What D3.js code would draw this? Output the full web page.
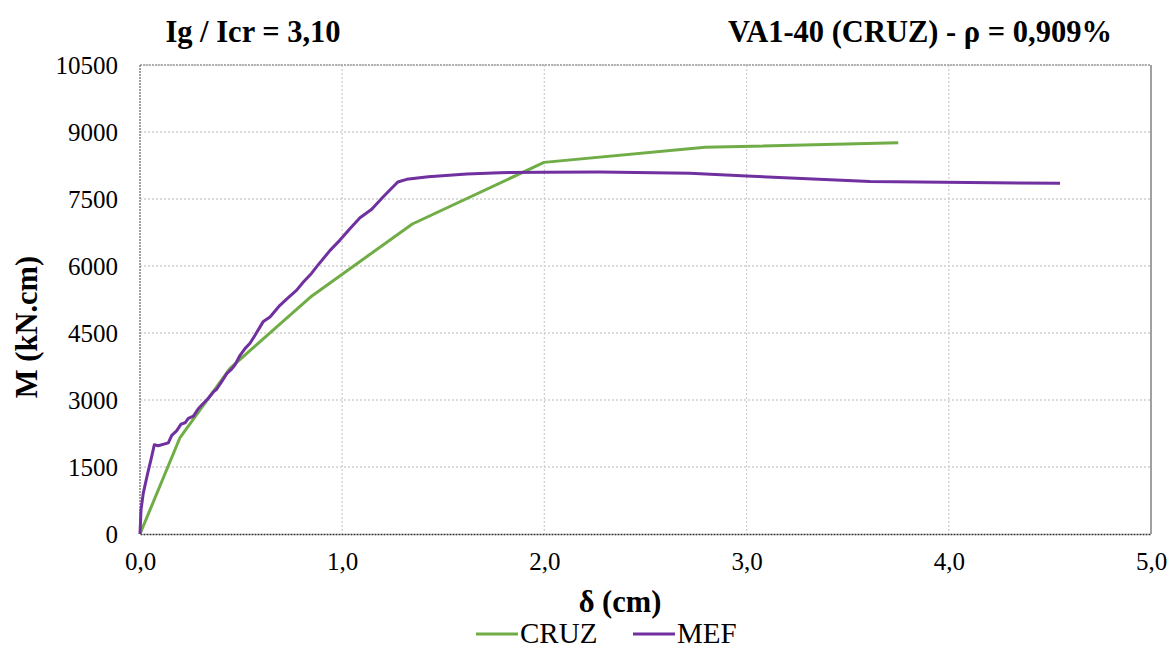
<!DOCTYPE html>
<html>
<head>
<meta charset="utf-8">
<script src="https://cdn.jsdelivr.net/npm/d3@7"></script>
<style>
  body { margin: 0; background: #fff; }
  svg text { font-family: "Liberation Serif", "Times New Roman", serif; fill: #000; }
</style>
</head>
<body>
<svg id="chart" width="1170" height="648"></svg>
<script>
/* data */
var cruzX = [0, 0.198, 0.445, 0.85, 1.347, 1.998, 2.794, 3.75];
var cruzM = [0, 2160, 3710, 5330, 6940, 8320, 8657, 8760];

var mefX = [0, 0.005, 0.016, 0.038, 0.054, 0.071, 0.09, 0.14, 0.157, 0.181, 0.203, 0.223, 0.239, 0.264,
            0.289, 0.321, 0.338, 0.363, 0.379, 0.404, 0.429, 0.453, 0.47, 0.495, 0.519, 0.544, 0.569,
            0.61, 0.643, 0.692, 0.725, 0.775, 0.808, 0.849, 0.874, 0.94, 0.989, 1.039, 1.088, 1.146,
            1.203, 1.275, 1.319, 1.426, 1.616, 1.78, 1.995, 2.275, 2.72, 3.0, 3.61, 4.55];
var mefM = [0, 540, 910, 1360, 1660, 2000, 1975, 2040, 2210, 2310, 2460, 2490, 2590, 2640,
            2810, 2960, 3040, 3180, 3240, 3410, 3590, 3690, 3790, 4000, 4150, 4270, 4450,
            4760, 4860, 5120, 5260, 5460, 5640, 5840, 5985, 6350, 6580, 6840, 7080, 7270,
            7550, 7880, 7940, 8000, 8060, 8090, 8100, 8105, 8075, 8015, 7890, 7850];

var xTicks = [0, 1, 2, 3, 4, 5];
var yTicks = [0, 1500, 3000, 4500, 6000, 7500, 9000, 10500];

var seriesNames = ["CRUZ", "MEF"];
var seriesColors = ["#70AD47", "#7030A0"];

var svg = d3.select("#chart");
var pLeft = 140, pRight = 1151, pTop = 65, pBottom = 534;

var x = d3.scaleLinear().domain([0, 5]).range([pLeft, pRight]);
var y = d3.scaleLinear().domain([0, 10500]).range([pBottom, pTop]);
var fmtX = function(d) { return d3.format(".1f")(d).replace(".", ","); };

/* gridlines */
svg.append("g").selectAll("line").data(yTicks.slice(1)).enter().append("line")
  .attr("x1", pLeft).attr("x2", pRight)
  .attr("y1", function(d) { return y(d); }).attr("y2", function(d) { return y(d); })
  .attr("stroke", "#d0d0d0").attr("stroke-width", 1.3).attr("stroke-dasharray", "2,2");
svg.append("g").selectAll("line").data(xTicks.slice(1, -1)).enter().append("line")
  .attr("y1", pTop).attr("y2", pBottom)
  .attr("x1", function(d) { return x(d); }).attr("x2", function(d) { return x(d); })
  .attr("stroke", "#d0d0d0").attr("stroke-width", 1.3).attr("stroke-dasharray", "2,2");

/* frame */
svg.append("line").attr("x1", pLeft).attr("x2", pRight).attr("y1", pTop).attr("y2", pTop)
  .attr("stroke", "#a0a0a0").attr("stroke-width", 1.3).attr("stroke-dasharray", "2,1");
svg.append("line").attr("x1", pRight).attr("x2", pRight).attr("y1", pTop).attr("y2", pBottom)
  .attr("stroke", "#808080").attr("stroke-width", 1.5);
svg.append("line").attr("x1", pLeft).attr("x2", pLeft).attr("y1", pTop).attr("y2", pBottom)
  .attr("stroke", "#808080").attr("stroke-width", 1.5).attr("stroke-dasharray", "2,1");

/* axes */
var xAxis = svg.append("g").attr("transform", "translate(0," + pBottom + ")")
  .call(d3.axisBottom(x).tickValues(xTicks).tickSize(0).tickPadding(18).tickFormat(fmtX));
xAxis.select(".domain").attr("stroke", "#333").attr("stroke-width", 1.3).attr("stroke-dasharray", "2,1");
xAxis.selectAll("text").attr("font-size", 25).attr("font-family", "Liberation Serif");

var yAxis = svg.append("g").attr("transform", "translate(" + pLeft + ",0)")
  .call(d3.axisLeft(y).tickValues(yTicks).tickSize(0).tickPadding(22).tickFormat(d3.format("d")));
yAxis.select(".domain").remove();
yAxis.selectAll("text").attr("font-size", 25).attr("font-family", "Liberation Serif");

/* lines */
var line = d3.line().x(function(d) { return x(d[0]); }).y(function(d) { return y(d[1]); });
var cruz = d3.zip(cruzX, cruzM), mef = d3.zip(mefX, mefM);

svg.append("path").datum(cruz).attr("d", line).attr("fill", "none")
  .attr("stroke", seriesColors[0]).attr("stroke-width", 3).attr("stroke-linejoin", "round");
svg.append("path").datum(mef).attr("d", line).attr("fill", "none")
  .attr("stroke", seriesColors[1]).attr("stroke-width", 3).attr("stroke-linejoin", "round");

/* titles */
svg.append("text").attr("x", 253).attr("y", 42).attr("text-anchor", "middle")
  .attr("font-size", 30.5).attr("font-weight", "bold").text("Ig / Icr = 3,10");
svg.append("text").attr("x", 920).attr("y", 42).attr("text-anchor", "middle")
  .attr("font-size", 30.5).attr("font-weight", "bold").text("VA1-40 (CRUZ) - ρ = 0,909%");

svg.append("text").attr("transform", "translate(37,327) rotate(-90)").attr("text-anchor", "middle")
  .attr("font-size", 30.5).attr("font-weight", "bold").text("M (kN.cm)");
svg.append("text").attr("x", 620).attr("y", 612).attr("text-anchor", "middle")
  .attr("font-size", 30.5).attr("font-weight", "bold").text("δ (cm)");

/* legend */
var legX = [476, 633];
var leg = svg.append("g").selectAll("g").data(seriesNames).enter().append("g")
  .attr("transform", function(d, i) { return "translate(" + legX[i] + ",634)"; });
leg.append("line").attr("x1", 0).attr("x2", 42).attr("y1", 0).attr("y2", 0)
  .attr("stroke", function(d, i) { return seriesColors[i]; }).attr("stroke-width", 3);
leg.append("text").attr("x", 44).attr("y", 9).attr("font-size", 29).text(function(d) { return d; });
</script>
</body>
</html>
